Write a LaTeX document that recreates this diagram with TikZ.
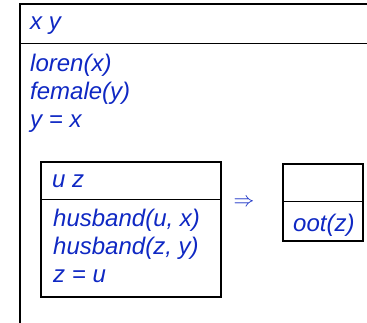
\documentclass[tikz,border=0pt]{standalone}
\usepackage{fontspec}
\setmainfont{Liberation Sans}
\usetikzlibrary{positioning}
\definecolor{drsblue}{RGB}{15,40,195}
\tikzstyle{box} = [rectangle, draw=black, line width=2.2pt, inner sep=0pt, outer sep=0pt]
\tikzstyle{sep} = [draw=black, line width=1pt]
\tikzstyle{term} = [anchor=base west, inner sep=0pt, text=drsblue, font=\fontsize{24}{28}\selectfont\itshape]

\begin{document}
\begin{tikzpicture}[x=1pt, y=-1pt]
  \useasboundingbox (0,0) rectangle (367,323);
  \clip (0,0) rectangle (367,323);
  % main box (runs off to the right and bottom)
  \node[box, anchor=north west, minimum width=380pt, minimum height=360pt](outer) at (20,4){};
  \coordinate (outersep) at (20,44);
  \draw[sep] (outersep) -- (outersep -| outer.east);
  \node[term](univ) at (30,30){x y};
  \node[term](c1) at (30,72){loren(x)};
  \node[term](c2) at (30,100){female(y)};
  \node[term](c3) at (30,128){y = x};
  % antecedent
  \node[box, anchor=north west, minimum width=180pt, minimum height=135pt](ant) at (41,162){};
  \coordinate (antsep) at (41,200);
  \draw[sep] (antsep) -- (antsep -| ant.east);
  \node[term](antuniv) at (52,188){u z};
  \node[term](a1) at (53,227){husband(u, x)};
  \node[term](a2) at (53,255){husband(z, y)};
  \node[term](a3) at (53,283){z = u};
  \node[text=drsblue, inner sep=0pt, font=\fontsize{21}{21}\selectfont](imp) at (244,202.5){$\Rightarrow$};
  % consequent
  \node[box, anchor=north west, minimum width=80pt, minimum height=77pt](cons) at (283,164){};
  \coordinate (conssep) at (283,202);
  \draw[sep] (conssep) -- (conssep -| cons.east);
  \node[term](k1) at (293,232){oot(z)};
\end{tikzpicture}
\end{document}
